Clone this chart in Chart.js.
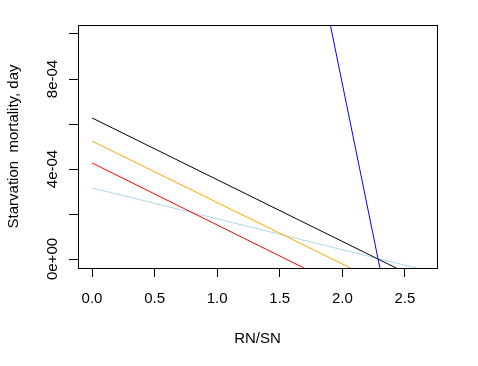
<!DOCTYPE html>
<html>
<head>
<meta charset="utf-8">
<script src="https://cdn.jsdelivr.net/npm/chart.js@4/dist/chart.umd.min.js"></script>
<style>
html,body{margin:0;padding:0;background:#fff;}
#wrap{width:478px;height:366px;}
</style>
</head>
<body>
<div id="wrap"><canvas id="c" width="478" height="366"></canvas></div>
<script>
// Data (x = RN/SN, y = starvation mortality)
const blackX = [0, 2.43];
const blackY = [6.27e-4, -0.4e-4];
const orangeX = [0, 2.066];
const orangeY = [5.24e-4, -0.4e-4];
const redX = [0, 1.693];
const redY = [4.27e-4, -0.4e-4];
const lightblueX = [0, 2.59];
const lightblueY = [3.16e-4, -0.4e-4];
const blueX = [1.904, 2.30];
const blueY = [10.4e-4, -0.4e-4];

const xTicks = [0, 0.5, 1.0, 1.5, 2.0, 2.5];
const xTickLabels = ['0.0', '0.5', '1.0', '1.5', '2.0', '2.5'];
const yTicks = [0, 2e-4, 4e-4, 6e-4, 8e-4, 10e-4];
const yLabelValues = [0, 4e-4, 8e-4];
const yLabelTexts = ['0e+00', '4e-04', '8e-04'];
const xTitle = 'RN/SN';
const yTitle = 'Starvation  mortality, day';

function pts(xs, ys){ return xs.map((x,i)=>({x:x, y:ys[i]})); }
function ds(xs, ys, color){
  return {data: pts(xs, ys), borderColor: color, backgroundColor: color, borderWidth: 1,
    showLine: true, pointRadius: 0, fill: false, tension: 0};
}

const FONT = '15px "Liberation Sans", Arial, sans-serif';

const rPlot = {
  id: 'rPlot',
  afterDraw(chart){
    const ctx = chart.ctx, a = chart.chartArea;
    const xs = chart.scales.x, ys = chart.scales.y;
    ctx.save();
    // box
    ctx.strokeStyle = '#000'; ctx.lineWidth = 1;
    ctx.strokeRect(Math.round(a.left)+0.5, Math.round(a.top)+0.5, Math.round(a.right-a.left), Math.round(a.bottom-a.top));
    ctx.fillStyle = '#000';
    ctx.font = FONT;
    // x tick labels
    ctx.textAlign = 'center'; ctx.textBaseline = 'alphabetic';
    xTicks.forEach((v,i)=>{ ctx.fillText(xTickLabels[i], xs.getPixelForValue(v), 303); });
    // x title
    ctx.fillText(xTitle, (a.left+a.right)/2, 343);
    // y tick labels (rotated)
    yLabelValues.forEach((v,i)=>{
      ctx.save();
      ctx.translate(56.5, ys.getPixelForValue(v));
      ctx.rotate(-Math.PI/2);
      ctx.textAlign='center'; ctx.textBaseline='alphabetic';
      ctx.fillText(yLabelTexts[i], 0, 0);
      ctx.restore();
    });
    // y title
    ctx.save();
    ctx.translate(18, (a.top+a.bottom)/2);
    ctx.rotate(-Math.PI/2);
    ctx.textAlign='center'; ctx.textBaseline='alphabetic';
    ctx.fillText(yTitle, 0, 0);
    ctx.restore();
    ctx.restore();
  }
};

new Chart(document.getElementById('c'), {
  type: 'scatter',
  data: { datasets: [
    ds(blackX, blackY, '#000000'),
    ds(orangeX, orangeY, '#FFA500'),
    ds(redX, redY, '#FF0000'),
    ds(lightblueX, lightblueY, '#ADD8E6'),
    ds(blueX, blueY, '#0000FF')
  ]},
  options: {
    responsive: false,
    animation: false,
    events: [],
    layout: { padding: { top: 25, right: 41, left: 0, bottom: 0 } },
    plugins: { legend: {display:false}, tooltip: {enabled:false} },
    scales: {
      x: {
        type: 'linear', min: -0.112, max: 2.756,
        afterBuildTicks: s => { s.ticks = xTicks.map(v=>({value:v})); },
        afterFit: s => { s.height = 98; },
        ticks: { display: false },
        grid: { display: true, drawOnChartArea: false, drawTicks: true, tickLength: 9, color: '#000', lineWidth: 1 },
        border: { display: false }
      },
      y: {
        type: 'linear', min: -0.4e-4, max: 10.4e-4,
        afterBuildTicks: s => { s.ticks = yTicks.map(v=>({value:v})); },
        afterFit: s => { s.width = 78; },
        ticks: { display: false },
        grid: { display: true, drawOnChartArea: false, drawTicks: true, tickLength: 9, color: '#000', lineWidth: 1 },
        border: { display: false }
      }
    }
  },
  plugins: [rPlot]
});
</script>
</body>
</html>
